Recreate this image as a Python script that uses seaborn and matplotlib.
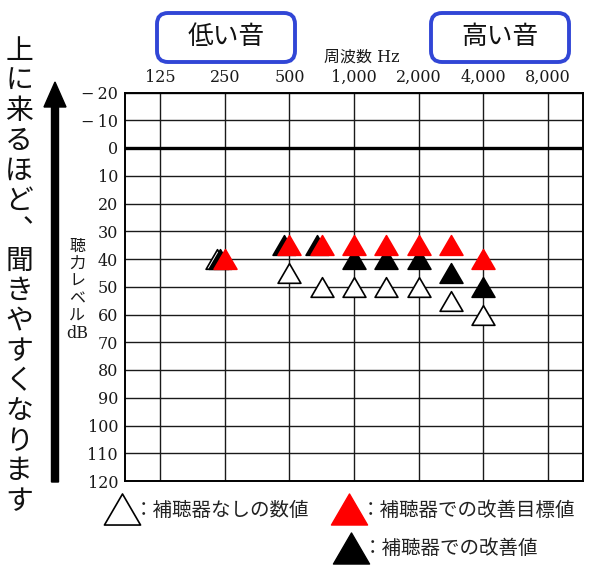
import numpy as np
import matplotlib
matplotlib.use('Agg')
import matplotlib.pyplot as plt
from matplotlib.patches import FancyBboxPatch, FancyArrow
from matplotlib.lines import Line2D
from matplotlib.path import Path
from matplotlib.transforms import ScaledTranslation
import seaborn as sns

# audiogram data (dB HL)
freqs = [250, 500, 750, 1000, 1500, 2000, 3000, 4000]
unaided = [40, 45, 50, 50, 50, 50, 55, 60]   # 補聴器なし
target = [40, 35, 35, 35, 35, 35, 35, 40]    # 改善目標値
aided = [40, 35, 35, 40, 40, 40, 45, 50]     # 改善値

grid_freqs = [125, 250, 500, 1000, 2000, 4000, 8000]
grid_labels = ['125', '250', '500', '1,000', '2,000', '4,000', '8,000']
db_ticks = list(range(-20, 121, 10))
db_labels = [('\u2212\u2009' + str(-v)) if v < 0 else str(v) for v in db_ticks]

side_text = '上に来るほど、聞きやすくなります'
ylabel_parts = ['聴', '力', 'レ', 'ベ', 'ル', 'dB']
legend_labels = ['：補聴器なしの数値', '：補聴器での改善目標値', '：補聴器での改善値']

sns.set_style('white')
plt.rcParams['font.family'] = ['DejaVu Serif', 'Noto Sans CJK JP']
JP = ['Noto Sans CJK JP', 'DejaVu Sans']
SERIF_JP = ['DejaVu Serif', 'Noto Sans CJK JP']


# octave grid drawn linearly inside each octave, like a paper audiogram form
def fwd(f):
    f = np.clip(np.asarray(f, float), 1e-3, None)
    k = np.floor(np.log2(f / 125) + 1e-9)
    base = 125 * 2.0 ** k
    return k + (f - base) / base


def inv(p):
    p = np.asarray(p, float)
    k = np.floor(p)
    base = 125 * 2.0 ** k
    return base * (1 + p - k)


fig = plt.figure(figsize=(6, 5.71), dpi=100)
ax = fig.add_axes([125 / 600, 1 - 481 / 571, 458 / 600, 388.5 / 571])
ax.set_xscale('function', functions=(fwd, inv))
ax.set_xlim(inv(-0.55), inv(6.55))
ax.set_ylim(120, -20)
ax.set_xticks(grid_freqs, grid_labels)
ax.set_yticks(db_ticks, db_labels)
ax.minorticks_off()
ax.xaxis.tick_top()
ax.tick_params(axis='x', length=0, labelsize=11.5, pad=4.5, colors='#1a1a1a')
ax.tick_params(axis='y', length=0, labelsize=11.5, pad=5, colors='#1a1a1a')
ax.grid(True, color='#1a1a1a', lw=1.0)
ax.axhline(0, color='black', lw=2.4, zorder=2)
for s in ax.spines.values():
    s.set_color('black')
    s.set_linewidth(1.4)

# flat-ish closed triangle marker
tri = Path([(-1, -0.86), (1, -0.86), (0, 0.86), (0, 0)],
           [Path.MOVETO, Path.LINETO, Path.LINETO, Path.CLOSEPOLY])


def draw(vals, face, edge, shift_mask, dx_px):
    x = np.array(freqs)
    y = np.array(vals)
    keep = ~shift_mask
    sns.scatterplot(x=x[keep], y=y[keep], marker=tri, s=270, color=face,
                    edgecolor=edge, linewidth=1.2, ax=ax, zorder=4, legend=False)
    if shift_mask.any():
        tr = ax.transData + ScaledTranslation(dx_px / 100, 0, fig.dpi_scale_trans)
        sns.scatterplot(x=x[shift_mask], y=y[shift_mask], marker=tri, s=270, color=face,
                        edgecolor=edge, linewidth=1.2, ax=ax, zorder=4, legend=False,
                        transform=tr)


t = np.array(target)
draw(unaided, 'white', 'black', np.array(unaided) == t, -8)
draw(aided, 'black', 'black', np.array(aided) == t, -5)
draw(target, '#ff0000', '#ff0000', np.zeros(len(t), bool), 0)

# blue boxes
for x0, txt in [(157, '低い音'), (431, '高い音')]:
    box = FancyBboxPatch((x0 / 100, (571 - 62) / 100), 1.38, 0.49,
                         boxstyle='round,pad=0,rounding_size=0.11',
                         transform=fig.dpi_scale_trans, fc='white', ec='#3146d6', lw=2.8)
    fig.patches.append(box)
    fig.text((x0 + 69) / 600, 1 - 37.5 / 571, txt, ha='center', va='center',
             fontsize=18.5, family=JP, color='#111111')

fig.text(362 / 600, 1 - 57 / 571, '周波数 Hz', ha='center', va='center',
         fontsize=11.5, family=SERIF_JP, color='#1a1a1a')

# left vertical caption (vertical-form comma) and arrow
for i, ch in enumerate(side_text):
    glyph = '\ufe11' if ch == '、' else ch
    fig.text(19 / 600, 1 - (51 + 30 * i) / 571, glyph, ha='center', va='center',
             fontsize=20, family=JP, color='#111111')
fig.patches.append(FancyArrow(0.55, (571 - 482) / 100, 0, 4.0, width=0.07,
                              head_width=0.22, head_length=0.25, length_includes_head=True,
                              transform=fig.dpi_scale_trans, color='black'))

for i, ch in enumerate(ylabel_parts):
    fig.text(77 / 600, 1 - (246 + 17.6 * i) / 571, ch, ha='center', va='center',
             fontsize=11.5, family=SERIF_JP if ch == 'dB' else JP, color='#1a1a1a')

# legend, laid out in two rows
handles = [
    Line2D([], [], ls='none', marker=tri, ms=26, mfc='white', mec='black', mew=1.2),
    Line2D([], [], ls='none', marker=tri, ms=26, mfc='#ff0000', mec='#ff0000'),
    Line2D([], [], ls='none', marker=tri, ms=26, mfc='black', mec='black'),
]
anchors = [(104, 510), (331, 510), (333, 549)]
for h, lab, (px, py) in zip(handles, legend_labels, anchors):
    leg = fig.legend(handles=[h], labels=[lab], loc='center left',
                     bbox_to_anchor=(px / 600, 1 - py / 571), frameon=False,
                     borderpad=0, borderaxespad=0, handlelength=1.9,
                     handletextpad=-0.35, prop={'family': JP, 'size': 14})
    for tx in leg.get_texts():
        tx.set_color('#222222')

fig.savefig('out.png', dpi=100)
